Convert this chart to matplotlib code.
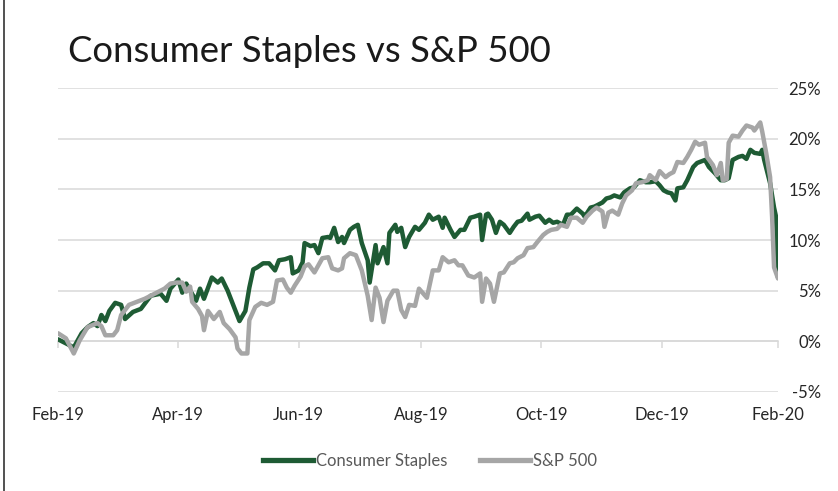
import matplotlib
matplotlib.use("Agg")
import matplotlib.pyplot as plt
import matplotlib.dates as mdates
import matplotlib.transforms as mtransforms
from matplotlib.lines import Line2D
import pandas as pd

title = "Consumer Staples vs S&P 500"
series_names = ["Consumer Staples", "S&P 500"]

staples_dates = [
    "2019-02-28", "2019-03-04", "2019-03-08", "2019-03-12", "2019-03-15", "2019-03-18", "2019-03-20",
    "2019-03-22", "2019-03-24", "2019-03-26", "2019-03-29", "2019-04-01", "2019-04-03", "2019-04-07",
    "2019-04-11", "2019-04-16", "2019-04-21", "2019-04-24", "2019-04-26", "2019-04-30", "2019-05-02",
    "2019-05-04", "2019-05-09", "2019-05-11", "2019-05-13", "2019-05-17", "2019-05-20", "2019-05-22",
    "2019-05-25", "2019-05-27", "2019-05-31", "2019-06-03", "2019-06-05", "2019-06-07", "2019-06-09",
    "2019-06-12", "2019-06-15", "2019-06-18", "2019-06-20", "2019-06-23", "2019-06-26", "2019-06-27",
    "2019-06-30", "2019-07-02", "2019-07-03", "2019-07-06", "2019-07-08", "2019-07-10", "2019-07-12",
    "2019-07-15", "2019-07-16", "2019-07-18", "2019-07-20", "2019-07-22", "2019-07-23", "2019-07-26",
    "2019-07-28", "2019-07-30", "2019-08-01", "2019-08-04", "2019-08-05", "2019-08-08", "2019-08-09",
    "2019-08-12", "2019-08-14", "2019-08-15", "2019-08-18", "2019-08-19", "2019-08-21", "2019-08-23",
    "2019-08-25", "2019-08-28", "2019-08-30", "2019-09-02", "2019-09-04", "2019-09-06", "2019-09-09",
    "2019-09-11", "2019-09-12", "2019-09-15", "2019-09-17", "2019-09-20", "2019-09-22", "2019-09-25",
    "2019-09-27", "2019-09-30", "2019-10-01", "2019-10-03", "2019-10-04", "2019-10-06", "2019-10-08",
    "2019-10-10", "2019-10-12", "2019-10-15", "2019-10-17", "2019-10-19", "2019-10-21", "2019-10-24",
    "2019-10-25", "2019-10-28", "2019-10-30", "2019-11-02", "2019-11-04", "2019-11-06", "2019-11-08",
    "2019-11-11", "2019-11-13", "2019-11-15", "2019-11-18", "2019-11-21", "2019-11-22", "2019-11-25",
    "2019-11-27", "2019-12-01", "2019-12-03", "2019-12-05", "2019-12-07", "2019-12-10", "2019-12-12",
    "2019-12-15", "2019-12-17", "2019-12-20", "2019-12-23", "2019-12-25", "2019-12-28", "2019-12-30",
    "2020-01-01", "2020-01-03", "2020-01-05", "2020-01-07", "2020-01-08", "2020-01-11", "2020-01-13",
    "2020-01-16", "2020-01-18", "2020-01-22", "2020-01-24", "2020-01-27", "2020-01-30", "2020-02-01",
    "2020-02-03", "2020-02-05", "2020-02-08", "2020-02-10", "2020-02-12", "2020-02-14", "2020-02-16",
    "2020-02-19", "2020-02-20", "2020-02-21", "2020-02-24", "2020-02-26", "2020-02-27", "2020-02-28",
]
staples_values = [
    0.2, -0.2, -0.6, 0.8, 1.4, 1.8, 1.5,
    2.6, 2.0, 3.0, 3.8, 3.6, 2.2, 2.9,
    3.2, 4.5, 4.7, 4.0, 5.2, 6.1, 4.8,
    5.7, 4.0, 5.2, 4.2, 6.3, 5.8, 6.2,
    5.0, 4.0, 2.0, 3.0, 5.3, 7.1, 7.3,
    7.7, 7.7, 7.0, 8.0, 8.1, 8.3, 6.7,
    7.0, 7.8, 9.7, 9.4, 9.5, 8.7, 10.2,
    10.3, 10.2, 11.2, 9.8, 10.3, 9.7, 11.0,
    11.3, 11.5, 9.7, 8.0, 5.8, 9.5, 7.7,
    9.3, 7.7, 10.7, 11.5, 10.8, 11.2, 9.3,
    10.3, 11.3, 11.0, 11.7, 12.5, 12.0, 12.3,
    11.2, 12.2, 11.0, 10.3, 11.0, 11.0, 12.2,
    12.3, 12.5, 10.0, 12.5, 12.6, 12.0, 10.7,
    11.8, 11.5, 10.7, 11.3, 11.8, 11.9, 12.6,
    12.0, 12.3, 12.4, 11.7, 12.0, 11.7, 11.8,
    11.5, 12.5, 12.5, 13.1, 12.6, 12.3, 13.2,
    13.3, 13.7, 14.1, 14.2, 14.4, 14.2, 14.7,
    15.1, 15.2, 15.9, 15.7, 15.7, 15.8, 15.4,
    14.9, 14.7, 14.6, 13.9, 15.1, 15.2, 15.9,
    17.2, 17.6, 17.9, 17.2, 16.6, 15.9, 15.9,
    16.1, 17.9, 18.2, 18.3, 18.0, 18.9, 18.6,
    18.5, 18.9, 17.9, 15.6, 13.2, 12.3, 6.3,
]

sp500_dates = [
    "2019-02-28", "2019-03-04", "2019-03-08", "2019-03-11", "2019-03-15", "2019-03-20", "2019-03-22",
    "2019-03-24", "2019-03-28", "2019-03-30", "2019-04-01", "2019-04-05", "2019-04-09", "2019-04-13",
    "2019-04-18", "2019-04-23", "2019-04-26", "2019-04-29", "2019-05-02", "2019-05-04", "2019-05-06",
    "2019-05-07", "2019-05-10", "2019-05-12", "2019-05-13", "2019-05-15", "2019-05-18", "2019-05-21",
    "2019-05-23", "2019-05-26", "2019-05-29", "2019-05-30", "2019-06-01", "2019-06-04", "2019-06-05",
    "2019-06-08", "2019-06-11", "2019-06-14", "2019-06-17", "2019-06-19", "2019-06-22", "2019-06-24",
    "2019-06-26", "2019-06-28", "2019-07-01", "2019-07-03", "2019-07-05", "2019-07-08", "2019-07-12",
    "2019-07-15", "2019-07-17", "2019-07-20", "2019-07-22", "2019-07-23", "2019-07-26", "2019-07-29",
    "2019-08-01", "2019-08-04", "2019-08-06", "2019-08-08", "2019-08-10", "2019-08-12", "2019-08-14",
    "2019-08-17", "2019-08-19", "2019-08-21", "2019-08-23", "2019-08-25", "2019-08-28", "2019-08-30",
    "2019-09-03", "2019-09-06", "2019-09-09", "2019-09-11", "2019-09-14", "2019-09-17", "2019-09-19",
    "2019-09-21", "2019-09-24", "2019-09-27", "2019-09-30", "2019-10-01", "2019-10-03", "2019-10-05",
    "2019-10-07", "2019-10-10", "2019-10-12", "2019-10-15", "2019-10-17", "2019-10-19", "2019-10-22",
    "2019-10-24", "2019-10-27", "2019-10-29", "2019-11-01", "2019-11-03", "2019-11-05", "2019-11-08",
    "2019-11-10", "2019-11-13", "2019-11-15", "2019-11-18", "2019-11-21", "2019-11-23", "2019-11-26",
    "2019-11-28", "2019-12-01", "2019-12-02", "2019-12-04", "2019-12-06", "2019-12-09", "2019-12-11",
    "2019-12-13", "2019-12-16", "2019-12-18", "2019-12-21", "2019-12-24", "2019-12-25", "2019-12-28",
    "2019-12-30", "2020-01-02", "2020-01-04", "2020-01-06", "2020-01-08", "2020-01-11", "2020-01-13",
    "2020-01-15", "2020-01-17", "2020-01-19", "2020-01-22", "2020-01-23", "2020-01-26", "2020-01-28",
    "2020-01-30", "2020-01-31", "2020-02-02", "2020-02-03", "2020-02-05", "2020-02-08", "2020-02-10",
    "2020-02-12", "2020-02-15", "2020-02-16", "2020-02-19", "2020-02-20", "2020-02-22", "2020-02-24",
    "2020-02-25", "2020-02-26", "2020-02-28",
]
sp500_values = [
    0.8, 0.3, -1.2, 0.1, 1.4, 1.8, 1.5,
    0.6, 0.6, 1.1, 2.6, 3.6, 3.9, 4.2,
    4.7, 5.2, 5.7, 5.8, 5.8, 4.9, 5.4,
    3.9, 3.2, 2.5, 1.1, 3.0, 2.2, 2.9,
    1.8, 1.2, 0.4, -0.7, -1.2, -1.2, 2.1,
    3.4, 3.8, 3.6, 3.9, 6.0, 6.1, 5.3,
    4.8, 5.5, 6.4, 7.4, 7.6, 6.8, 8.2,
    8.3, 7.2, 7.0, 7.2, 8.2, 8.7, 8.5,
    7.0, 4.5, 2.1, 5.3, 4.3, 1.9, 4.0,
    5.0, 5.0, 3.1, 2.4, 3.6, 3.5, 5.2,
    4.3, 7.0, 7.0, 8.3, 7.8, 8.0, 7.5,
    7.5, 6.5, 6.3, 6.7, 3.9, 6.2, 5.7,
    3.9, 6.7, 6.8, 7.7, 7.8, 8.2, 8.5,
    9.2, 9.3, 9.8, 10.5, 10.8, 11.0, 11.1,
    11.5, 11.3, 12.2, 12.2, 11.7, 12.3, 12.9,
    13.2, 12.8, 11.3, 12.7, 12.9, 12.5, 13.6,
    14.4, 14.9, 15.6, 15.7, 15.9, 16.4, 15.9,
    16.8, 16.2, 16.5, 16.7, 17.7, 17.6, 18.2,
    18.9, 19.7, 19.4, 19.6, 18.2, 17.4, 16.4,
    17.6, 15.9, 16.0, 19.6, 20.3, 20.2, 20.8,
    21.3, 21.1, 20.8, 21.6, 20.7, 18.6, 16.2,
    12.3, 7.3, 6.2,
]

tick_dates = ["2019-02-28", "2019-04-30", "2019-06-30", "2019-08-31",
              "2019-10-31", "2019-12-31", "2020-02-28"]
tick_labels = ["Feb-19", "Apr-19", "Jun-19", "Aug-19", "Oct-19", "Dec-19", "Feb-20"]
y_ticks = [-5, 0, 5, 10, 15, 20, 25]

GREEN = "#1e5b34"
GRAY = "#a6a6a6"
GRID = "#d9d9d9"
TEXT = "#262626"
FONT = ["Lato", "DejaVu Sans"]

plt.rcParams["font.family"] = FONT

W, H = 838, 491
fig = plt.figure(figsize=(W / 100, H / 100), dpi=100)
ax = fig.add_axes([58 / W, 1 - 392 / H, 720 / W, 304 / H])

sd = pd.to_datetime(staples_dates)
pd_ = pd.to_datetime(sp500_dates)
ax.plot(sd, staples_values, color=GREEN, lw=3.2, solid_joinstyle="round",
        solid_capstyle="round", label=series_names[0], zorder=3)
ax.plot(pd_, sp500_values, color=GRAY, lw=3.2, solid_joinstyle="round",
        solid_capstyle="round", label=series_names[1], zorder=4)

tdates = pd.to_datetime(tick_dates)
ax.set_xlim(tdates[0], tdates[-1])
ax.set_ylim(y_ticks[0], y_ticks[-1])

ax.set_yticks(y_ticks)
ax.set_yticklabels([f"{v}%" for v in y_ticks])
ax.yaxis.tick_right()
ax.tick_params(axis="y", length=0, pad=31, labelsize=12, labelcolor=TEXT)
for lab in ax.get_yticklabels():
    lab.set_horizontalalignment("right")
ax.yaxis.grid(True, color=GRID, lw=1.1)
ax.set_axisbelow(True)

for s in ["top", "left", "right"]:
    ax.spines[s].set_visible(False)
ax.spines["bottom"].set_position(("data", 0))
ax.spines["bottom"].set_color(GRID)
ax.spines["bottom"].set_linewidth(1.1)

ax.set_xticks(tdates)
ax.tick_params(axis="x", direction="out", length=5, width=1.1, color=GRID,
               labelbottom=False)

trans = mtransforms.blended_transform_factory(ax.transData, ax.transAxes)
for d, lab in zip(mdates.date2num(tdates), tick_labels):
    ax.text(d, -0.076, lab, transform=trans, ha="center", va="center",
            fontsize=12, color=TEXT)

fig.text(68 / W, 1 - 62 / H, title, fontsize=26.3, fontweight="normal",
         color="#1a1a1a", va="baseline", ha="left")

handles = [Line2D([], [], color=GREEN, lw=3.8), Line2D([], [], color=GRAY, lw=3.8)]
fig.legend(handles, series_names, loc="center", bbox_to_anchor=(430 / W, 1 - 461 / H),
           ncol=2, frameon=False, fontsize=12, handlelength=3.0, handletextpad=0.15,
           columnspacing=2.0, labelcolor="#595959")

fig.add_artist(Line2D([3.5 / W, 3.5 / W], [0, 1], transform=fig.transFigure,
                      color="#333333", lw=1.2))

fig.savefig("out.png", dpi=100)
